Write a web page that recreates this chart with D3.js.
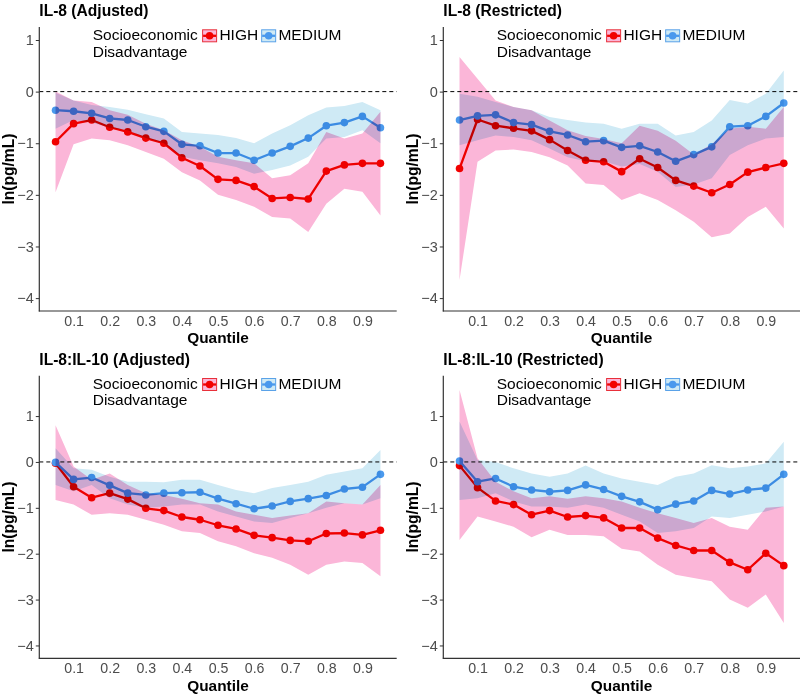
<!DOCTYPE html>
<html>
<head>
<meta charset="utf-8">
<script src="https://cdn.jsdelivr.net/npm/d3@7"></script>
<style>
  html, body { margin: 0; padding: 0; background: #fff; }
  svg { display: block; font-family: "Liberation Sans", Arial, sans-serif; }
</style>
</head>
<body>
<div id="chart"></div>
<script>
// ---------- data ----------
const quantiles = [0.05,0.10,0.15,0.20,0.25,0.30,0.35,0.40,0.45,0.50,0.55,0.60,0.65,0.70,0.75,0.80,0.85,0.90,0.95];
const xTickValues = [0.1,0.2,0.3,0.4,0.5,0.6,0.7,0.8,0.9];
const yTickValues = [-4,-3,-2,-1,0,1];
const groups = ["HIGH", "MEDIUM"];
const legendTitle = ["Socioeconomic", "Disadvantage"];
const panelTitles = ["IL-8 (Adjusted)", "IL-8 (Restricted)", "IL-8:IL-10 (Adjusted)", "IL-8:IL-10 (Restricted)"];

// IL-8 (Adjusted)
const highA   = [-0.97,-0.62,-0.55,-0.69,-0.78,-0.90,-1.00,-1.28,-1.44,-1.70,-1.72,-1.84,-2.07,-2.05,-2.08,-1.54,-1.42,-1.39,-1.39];
const highALo = [-1.95,-1.02,-0.91,-0.94,-1.04,-1.17,-1.30,-1.56,-1.72,-2.00,-2.10,-2.23,-2.43,-2.46,-2.72,-2.17,-1.88,-1.94,-2.40];
const highAHi = [0.00,-0.17,-0.20,-0.36,-0.45,-0.62,-0.75,-0.94,-1.07,-1.26,-1.33,-1.39,-1.68,-1.62,-1.39,-0.78,-0.91,-0.81,-0.39];
const medA    = [-0.36,-0.38,-0.42,-0.52,-0.55,-0.68,-0.77,-1.02,-1.05,-1.19,-1.19,-1.33,-1.19,-1.06,-0.90,-0.66,-0.60,-0.48,-0.70];
const medALo  = [-0.72,-0.55,-0.60,-0.70,-0.75,-0.90,-1.00,-1.26,-1.33,-1.39,-1.46,-1.59,-1.52,-1.43,-1.26,-0.91,-0.88,-0.75,-1.00];
const medAHi  = [-0.02,-0.17,-0.26,-0.30,-0.35,-0.44,-0.52,-0.78,-0.81,-0.84,-0.90,-1.00,-0.81,-0.65,-0.46,-0.31,-0.28,-0.20,-0.36];

// IL-8 (Restricted)
const highB   = [-1.49,-0.54,-0.66,-0.71,-0.76,-0.93,-1.14,-1.33,-1.36,-1.55,-1.30,-1.47,-1.72,-1.83,-1.96,-1.80,-1.56,-1.47,-1.39];
const highBLo = [-3.65,-1.36,-1.14,-1.12,-1.17,-1.27,-1.43,-1.78,-1.81,-2.10,-1.97,-2.10,-2.30,-2.52,-2.82,-2.75,-2.43,-2.23,-2.65];
const highBHi = [0.67,0.25,-0.17,-0.30,-0.36,-0.56,-0.75,-0.86,-0.92,-1.00,-0.66,-0.76,-0.95,-1.22,-1.02,-0.72,-0.68,-0.72,-0.30];
const medB    = [-0.55,-0.47,-0.45,-0.60,-0.64,-0.77,-0.84,-0.97,-0.95,-1.08,-1.05,-1.17,-1.35,-1.22,-1.07,-0.68,-0.66,-0.48,-0.22];
const medBLo  = [-1.04,-0.94,-0.85,-0.88,-0.94,-1.10,-1.27,-1.35,-1.35,-1.45,-1.40,-1.55,-1.85,-1.80,-1.68,-1.23,-1.04,-0.91,-0.88];
const medBHi  = [-0.04,-0.10,-0.20,-0.30,-0.36,-0.49,-0.55,-0.60,-0.62,-0.72,-0.62,-0.62,-0.85,-0.78,-0.56,-0.16,-0.23,-0.04,0.41];

// IL-8:IL-10 (Adjusted)
const highC   = [-0.03,-0.54,-0.78,-0.68,-0.81,-1.01,-1.06,-1.20,-1.26,-1.38,-1.46,-1.60,-1.65,-1.71,-1.73,-1.56,-1.55,-1.59,-1.49];
const highCLo = [-0.83,-0.93,-1.15,-1.12,-1.15,-1.26,-1.37,-1.51,-1.55,-1.73,-1.84,-1.99,-2.09,-2.24,-2.46,-2.24,-2.17,-2.20,-2.49];
const highCHi = [0.80,-0.10,-0.39,-0.25,-0.50,-0.68,-0.72,-0.80,-0.90,-0.93,-1.08,-1.15,-1.22,-1.17,-1.12,-0.86,-0.90,-0.93,-0.50];
const medC    = [-0.01,-0.38,-0.34,-0.51,-0.68,-0.72,-0.68,-0.67,-0.66,-0.80,-0.91,-1.02,-0.96,-0.86,-0.80,-0.73,-0.59,-0.55,-0.27];
const medCLo  = [-0.50,-0.64,-0.50,-0.79,-0.93,-1.00,-0.97,-0.93,-0.93,-1.08,-1.19,-1.30,-1.33,-1.22,-1.12,-1.00,-0.90,-0.93,-0.79];
const medCHi  = [0.30,-0.14,-0.17,-0.32,-0.43,-0.43,-0.44,-0.39,-0.39,-0.50,-0.61,-0.68,-0.57,-0.50,-0.43,-0.28,-0.21,-0.14,0.26];

// IL-8:IL-10 (Restricted)
const highD   = [-0.08,-0.56,-0.85,-0.93,-1.15,-1.06,-1.20,-1.17,-1.22,-1.44,-1.44,-1.66,-1.82,-1.93,-1.93,-2.19,-2.35,-1.99,-2.26];
const highDLo = [-1.70,-1.19,-1.30,-1.41,-1.64,-1.48,-1.59,-1.59,-1.62,-1.89,-1.95,-2.24,-2.46,-2.53,-2.60,-3.00,-3.18,-2.89,-3.51];
const highDHi = [1.57,0.08,-0.43,-0.64,-0.79,-0.75,-0.80,-0.75,-0.79,-0.86,-1.00,-1.12,-1.22,-1.33,-1.22,-1.41,-1.48,-1.00,-0.97];
const medD    = [0.02,-0.43,-0.36,-0.54,-0.61,-0.65,-0.62,-0.50,-0.60,-0.75,-0.87,-1.04,-0.92,-0.85,-0.62,-0.70,-0.61,-0.57,-0.27];
const medDLo  = [-0.83,-0.79,-0.68,-0.86,-0.97,-0.97,-1.00,-0.93,-1.00,-1.15,-1.30,-1.55,-1.51,-1.44,-1.19,-1.22,-1.15,-1.08,-0.97];
const medDHi  = [0.88,0.04,0.00,-0.14,-0.25,-0.32,-0.25,-0.08,-0.25,-0.36,-0.43,-0.50,-0.32,-0.25,-0.07,-0.14,-0.10,-0.03,0.44];

// ---------- layout / style ----------
const W = 802, H = 697;
const COLORS = {
  HIGH:   { line: "#F20000", band: "#FBB6D8", border: "#E8303A" },
  MEDIUM: { line: "#4A99ED", band: "#CFEAF5", border: "#5AA2E8" }
};
const panels = [
  { title: panelTitles[0], left: 39.3,  right: 396.7, top: 27.1,  bottom: 311.0, ydom: [-4.25, 1.25], titleY: 16.3,
    series: [[highA, highALo, highAHi], [medA, medALo, medAHi]] },
  { title: panelTitles[1], left: 443.3, right: 800.0, top: 27.1,  bottom: 311.0, ydom: [-4.25, 1.25], titleY: 16.3,
    series: [[highB, highBLo, highBHi], [medB, medBLo, medBHi]] },
  { title: panelTitles[2], left: 39.3,  right: 396.7, top: 375.7, bottom: 658.3, ydom: [-4.28, 1.88], titleY: 365.0,
    series: [[highC, highCLo, highCHi], [medC, medCLo, medCHi]] },
  { title: panelTitles[3], left: 443.3, right: 800.0, top: 375.7, bottom: 658.3, ydom: [-4.28, 1.88], titleY: 365.0,
    series: [[highD, highDLo, highDHi], [medD, medDLo, medDHi]] }
];

const svg = d3.select("#chart").append("svg").attr("width", W).attr("height", H);
svg.append("rect").attr("width", W).attr("height", H).attr("fill", "#fff");

panels.forEach(p => {
  const g = svg.append("g");
  const x = d3.scaleLinear().domain([0.005, 0.995]).range([p.left, p.right]);
  const y = d3.scaleLinear().domain(p.ydom).range([p.bottom, p.top]);

  // zero reference line
  g.append("line")
    .attr("x1", p.left).attr("x2", p.right)
    .attr("y1", y(0)).attr("y2", y(0))
    .attr("stroke", "#000").attr("stroke-width", 1)
    .attr("stroke-dasharray", "4,3");

  // lines and points first
  groups.forEach((grp, gi) => {
    const vals = p.series[gi][0];
    const pts = quantiles.map((q, i) => [q, vals[i]]);
    g.append("path")
      .datum(pts)
      .attr("fill", "none")
      .attr("stroke", COLORS[grp].line)
      .attr("stroke-width", 2.3)
      .attr("stroke-linejoin", "round")
      .attr("d", d3.line().x(d => x(d[0])).y(d => y(d[1])));
    g.selectAll(null).data(pts).enter().append("circle")
      .attr("cx", d => x(d[0])).attr("cy", d => y(d[1]))
      .attr("r", 3.8)
      .attr("fill", COLORS[grp].line);
  });

  // confidence ribbons on top, multiply blended
  groups.forEach((grp, gi) => {
    const lo = p.series[gi][1], hi = p.series[gi][2];
    const pts = quantiles.map((q, i) => [q, lo[i], hi[i]]);
    g.append("path")
      .datum(pts)
      .attr("fill", COLORS[grp].band)
      .style("mix-blend-mode", "multiply")
      .attr("d", d3.area().x(d => x(d[0])).y0(d => y(d[1])).y1(d => y(d[2])));
  });

  // axes
  const yAxis = d3.axisLeft(y).tickValues(yTickValues).tickSize(3.5).tickPadding(2).tickFormat(d3.format("d"));
  const ga = g.append("g").attr("transform", `translate(${p.left},0)`).call(yAxis);
  ga.select(".domain").remove();
  ga.selectAll(".tick line").attr("stroke", "#333").attr("stroke-width", 1);
  ga.selectAll(".tick text").attr("fill", "#4D4D4D").style("font-size", "14.5px")
    .style("font-family", '"Liberation Sans", Arial, sans-serif');

  const xAxis = d3.axisBottom(x).tickValues(xTickValues).tickSize(0).tickPadding(5).tickFormat(d3.format(".1f"));
  const gx = g.append("g").attr("transform", `translate(0,${p.bottom})`).call(xAxis);
  gx.select(".domain").remove();
  gx.selectAll(".tick text").attr("fill", "#4D4D4D").style("font-size", "14.2px")
    .style("font-family", '"Liberation Sans", Arial, sans-serif');

  g.append("line").attr("x1", p.left).attr("x2", p.left).attr("y1", p.top).attr("y2", p.bottom + 0.5)
    .attr("stroke", "#333").attr("stroke-width", 1.2);
  g.append("line").attr("x1", p.left - 0.5).attr("x2", p.right).attr("y1", p.bottom).attr("y2", p.bottom)
    .attr("stroke", "#333").attr("stroke-width", 1.2);

  // titles
  g.append("text").attr("x", p.left).attr("y", p.titleY)
    .attr("font-weight", "bold").attr("font-size", "15.6px").attr("fill", "#000")
    .text(p.title);
  g.append("text").attr("transform", `translate(${p.left - 25.8},${(p.top + p.bottom) / 2}) rotate(-90)`)
    .attr("text-anchor", "middle").attr("font-weight", "bold").attr("font-size", "15.6px").attr("fill", "#000")
    .text("ln(pg/mL)");
  g.append("text").attr("x", (p.left + p.right) / 2).attr("y", p.bottom + 32.4)
    .attr("text-anchor", "middle").attr("font-weight", "bold").attr("font-size", "15.4px").attr("fill", "#000")
    .text("Quantile");

  // legend
  const lx = p.left + 53.4, ly = p.titleY + 23.8;
  const lg = g.append("g");
  const t1 = lg.append("text").attr("x", lx).attr("y", ly).attr("font-size", "15.5px").attr("fill", "#000").text(legendTitle[0]);
  lg.append("text").attr("x", lx).attr("y", ly + 16.5).attr("font-size", "15.5px").attr("fill", "#000").text(legendTitle[1]);
  let cx = lx + t1.node().getComputedTextLength() + 4.3;
  groups.forEach((grp) => {
    const kw = 15, kh = 13, ky = ly - 10.8;
    lg.append("rect").attr("x", cx + 0.5).attr("y", ky + 0.5).attr("width", kw - 1).attr("height", kh - 1)
      .attr("fill", COLORS[grp].band).attr("stroke", COLORS[grp].border).attr("stroke-width", 1);
    lg.append("line").attr("x1", cx + 1).attr("x2", cx + kw - 1).attr("y1", ky + kh / 2).attr("y2", ky + kh / 2)
      .attr("stroke", COLORS[grp].line).attr("stroke-width", 2.3);
    lg.append("circle").attr("cx", cx + kw / 2).attr("cy", ky + kh / 2).attr("r", 3.8).attr("fill", COLORS[grp].line);
    const t = lg.append("text").attr("x", cx + kw + 2.3).attr("y", ly).attr("font-size", "15.5px").attr("fill", "#000").text(grp);
    cx = cx + kw + 2.3 + t.node().getComputedTextLength() + 3;
  });
});
</script>
</body>
</html>
